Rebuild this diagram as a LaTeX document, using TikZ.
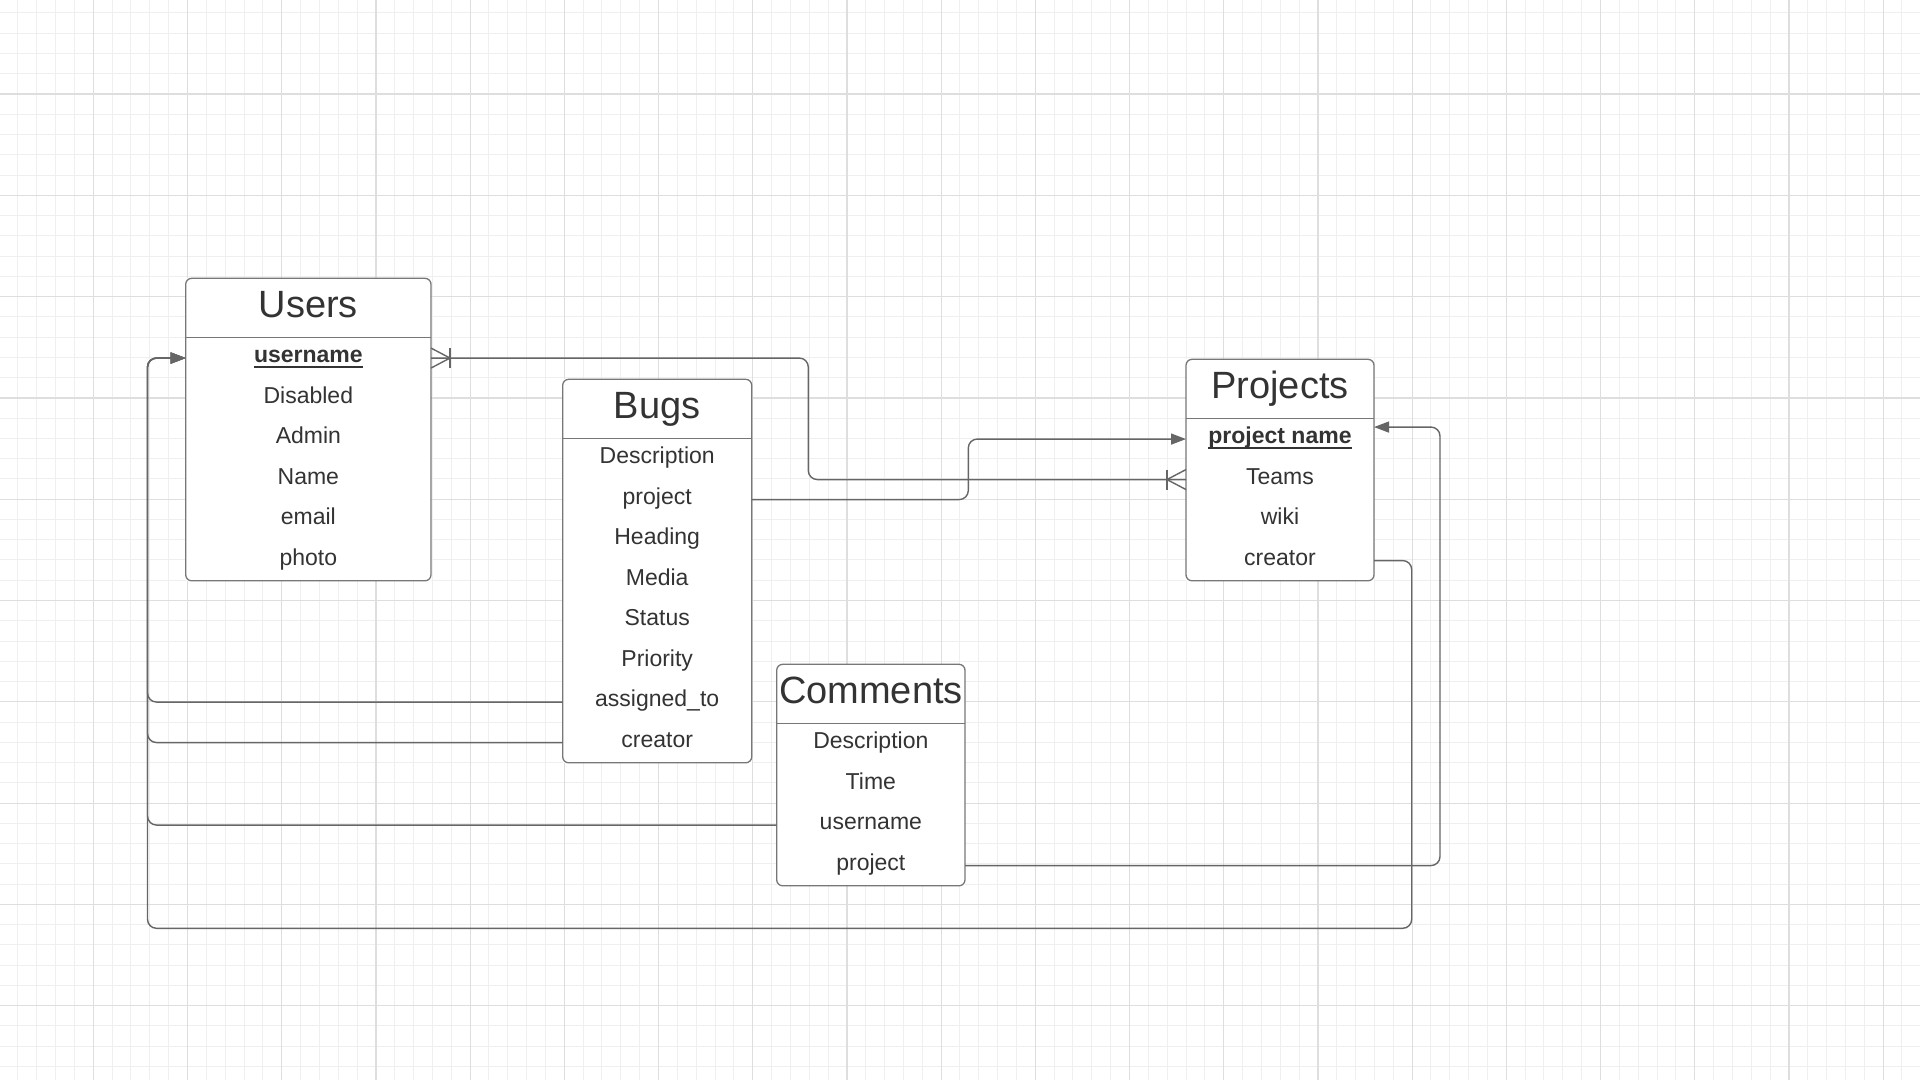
\documentclass[tikz,border=0pt]{standalone}
\usepackage{fontspec}
\setmainfont{Liberation Sans}
\usetikzlibrary{arrows.meta}

\definecolor{inkgray}{HTML}{333333}
\definecolor{linegray}{HTML}{666666}
\definecolor{boxgray}{HTML}{777777}
\definecolor{gridminor}{HTML}{EFEFEF}
\definecolor{gridmajor}{HTML}{DEDEDE}

% bold key field, underlined at a fixed depth
\newcommand{\pkfield}[1]{\setbox0\hbox{\bfseries #1}\rlap{\vrule width\wd0 height -3pt depth 5pt}\box0}

\tikzset{
  tbltitle/.style={fill=white, inner sep=0pt, outer sep=0pt, minimum height=59.5pt,
    text height=28pt, text depth=10pt, font=\fontsize{38}{44}\selectfont, text=inkgray},
  field/.style={fill=white, inner sep=0pt, outer sep=0pt, minimum height=40.5pt,
    text height=16pt, text depth=6.5pt, font=\fontsize{23}{27}\selectfont, text=inkgray},
  tblbox/.style={draw=boxgray, line width=1.3pt, rounded corners=6pt},
  link/.style={draw=linegray, line width=1.4pt, rounded corners=9pt},
  crowfoot/.style={draw=linegray, line width=1.4pt},
  headarrow/.style={-{Triangle[length=15pt,width=11pt]}},
  minorline/.style={draw=gridminor, line width=1pt},
  majorline/.style={draw=gridmajor, line width=1.2pt}
}

\begin{document}
\begin{tikzpicture}[x=1pt, y=-1pt]
    \clip (0,0) rectangle (1920,1080);
    \fill[white] (0,0) rectangle (1920,1080);

    % grid
    \foreach \k in {0,...,102} \draw[minorline] ({-0.9+18.84*\k},0) -- ++(0,1080);
    \foreach \k in {0,...,54} \draw[minorline] (0,{-7.3+20.26*\k}) -- ++(1920,0);
    \foreach \k in {0,...,20} \draw[majorline] ({-0.9+94.2*\k},0) -- ++(0,1080);
    \foreach \k in {0,...,10} \draw[majorline] (0,{-7.3+101.3*\k}) -- ++(1920,0);

    % Users
    \node[tbltitle, minimum width=245.3pt] (users) at (308.35,308.05) {Users};
    \foreach \i/\f in {0/\pkfield{username}, 1/Disabled, 2/Admin, 3/Name, 4/email, 5/photo}
        \node[field, minimum width=245.3pt] (users-\i) at (308.35,358.05+40.5*\i) {\f};
    \draw[tblbox] (users.north west) rectangle (users-5.south east);
    \draw[tblbox] (users.south west) -- (users.south east);

    % Bugs
    \node[tbltitle, minimum width=189pt] (bugs) at (657.2,409.05) {Bugs};
    \foreach \i/\f in {0/Description, 1/project, 2/Heading, 3/Media, 4/Status, 5/Priority, 6/assigned\_to, 7/creator}
        \node[field, minimum width=189pt] (bugs-\i) at (657.2,459.05+40.5*\i) {\f};
    \draw[tblbox] (bugs.north west) rectangle (bugs-7.south east);
    \draw[tblbox] (bugs.south west) -- (bugs.south east);

    % Projects
    \node[tbltitle, minimum width=188pt] (projects) at (1280,389.05) {Projects};
    \foreach \i/\f in {0/\pkfield{project name}, 1/Teams, 2/wiki, 3/creator}
        \node[field, minimum width=188pt] (projects-\i) at (1280,439.05+40.5*\i) {\f};
    \draw[tblbox] (projects.north west) rectangle (projects-3.south east);
    \draw[tblbox] (projects.south west) -- (projects.south east);

    % Comments
    \node[tbltitle, minimum width=188.3pt] (comments) at (870.85,694.05) {Comments};
    \foreach \i/\f in {0/Description, 1/Time, 2/username, 3/project}
        \node[field, minimum width=188.3pt] (comments-\i) at (870.85,744.05+40.5*\i) {\f};
    \draw[tblbox] (comments.north west) rectangle (comments-3.south east);
    \draw[tblbox] (comments.south west) -- (comments.south east);

    % routing lanes
    \coordinate (lbus) at (147.5,0);
    \coordinate (midA) at (808.3,0);
    \coordinate (midB) at (968.3,0);
    \coordinate (rbusA) at (1411.7,0);
    \coordinate (rbusB) at (1440,0);
    \coordinate (lowbus) at (0,928.3);
    \coordinate (projects-in) at ([yshift=12pt]projects-0.east);

    % users <-> projects (many to many)
    \draw[link] (users-0.east) -| (midA |- projects-1.west) -- (projects-1.west);
    \draw[crowfoot] ([yshift=10pt]users-0.east) -- ([xshift=19pt]users-0.east) -- ([yshift=-10pt]users-0.east);
    \draw[crowfoot] ([xshift=19pt,yshift=10pt]users-0.east) -- ([xshift=19pt,yshift=-10pt]users-0.east);
    \draw[crowfoot] ([yshift=10pt]projects-1.west) -- ([xshift=-19pt]projects-1.west) -- ([yshift=-10pt]projects-1.west);
    \draw[crowfoot] ([xshift=-19pt,yshift=10pt]projects-1.west) -- ([xshift=-19pt,yshift=-10pt]projects-1.west);

    % foreign keys
    \draw[link, headarrow] (bugs-1.east) -| (midB |- projects-0.west) -- (projects-0.west);
    \foreach \src in {bugs-6, bugs-7, comments-2}
        \draw[link, headarrow] (\src.west) -| (lbus |- users-0.west) -- (users-0.west);
    \draw[link, headarrow] (projects-3.east) -| (rbusA |- lowbus) -| (lbus |- users-0.west) -- (users-0.west);
    \draw[link, headarrow] (comments-3.east) -| (rbusB |- projects-in) -- (projects-in);
\end{tikzpicture}
\end{document}
